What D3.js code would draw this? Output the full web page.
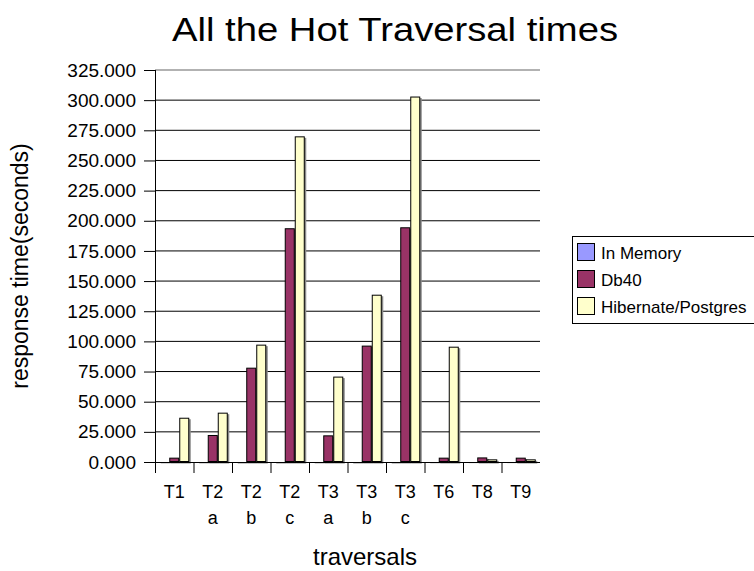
<!DOCTYPE html>
<html>
<head>
<meta charset="utf-8">
<title>All the Hot Traversal times</title>
<script src="https://d3js.org/d3.v7.min.js"></script>
<style>
  body { margin: 0; background: #fff; overflow: hidden; }
  svg { display: block; }
  svg text { font-family: "Liberation Sans", Arial, sans-serif; fill: #000; }
</style>
</head>
<body>
<div id="chart"></div>
<script>
// Data
const categories = ["T1", "T2a", "T2b", "T2c", "T3a", "T3b", "T3c", "T6", "T8", "T9"];
const categoryLabels = [["T1"], ["T2", "a"], ["T2", "b"], ["T2", "c"], ["T3", "a"], ["T3", "b"], ["T3", "c"], ["T6"], ["T8"], ["T9"]];
const seriesNames = ["In Memory", "Db40", "Hibernate/Postgres"];
const inMemory = [0.3, 0.3, 0.4, 0.5, 0.3, 0.4, 0.5, 0.2, 0.1, 0.1];
const db40 = [3.6, 22.4, 78.2, 193.8, 22.1, 96.5, 194.6, 3.6, 3.8, 3.6];
const hibernate = [36.7, 40.9, 97.3, 270.0, 70.8, 138.7, 303.0, 95.6, 2.2, 2.2];
const yTicks = [0, 25, 50, 75, 100, 125, 150, 175, 200, 225, 250, 275, 300, 325];

const colors = ["#9999ff", "#993366", "#ffffcc"];
const series = [inMemory, db40, hibernate];

// Dimensions
const width = 754, height = 571;
const margin = { top: 70, right: 214, bottom: 109, left: 155 };
const innerWidth = width - margin.left - margin.right;
const innerHeight = height - margin.top - margin.bottom;

const svg = d3.select("#chart").append("svg")
  .attr("width", width)
  .attr("height", height);

const g = svg.append("g")
  .attr("transform", `translate(${margin.left},${margin.top})`);

// Scales
const x = d3.scaleBand().domain(categories).range([0, innerWidth]).paddingInner(0).paddingOuter(0);
const xInner = d3.scaleBand().domain(d3.range(series.length))
  .range([x.bandwidth() * 0.11, x.bandwidth() * 0.89]);
const y = d3.scaleLinear().domain([0, 325]).range([innerHeight, 0]);

// Gridlines
g.selectAll(".grid").data(yTicks.filter(d => d > 0)).join("line")
  .attr("x1", 0).attr("x2", innerWidth)
  .attr("y1", d => y(d)).attr("y2", d => y(d))
  .attr("stroke", d => d === 325 ? "#999" : "#000")
  .attr("stroke-width", d => d === 325 ? 1.5 : 1);

// Bars (with Excel-like shadow)
const rows = [];
categories.forEach((c, i) => series.forEach((s, j) => rows.push({ c, j, v: s[i] })));

g.selectAll(".shadow").data(rows).join("rect")
  .attr("x", d => x(d.c) + xInner(d.j) + 1.5)
  .attr("y", d => y(d.v) + 1.5)
  .attr("width", xInner.bandwidth())
  .attr("height", d => innerHeight - y(d.v))
  .attr("fill", "#8a8a8a");

g.selectAll(".bar").data(rows).join("rect")
  .attr("x", d => x(d.c) + xInner(d.j) + 0.5)
  .attr("y", d => y(d.v) + 0.5)
  .attr("width", xInner.bandwidth() - 1)
  .attr("height", d => Math.max(0, innerHeight - y(d.v) - 1))
  .attr("fill", d => colors[d.j])
  .attr("stroke", "#000")
  .attr("stroke-width", 1);

// Y axis
const yAxis = g.append("g")
  .attr("font-size", 19)
  .attr("font-family", "Liberation Sans, Arial, sans-serif")
  .call(d3.axisLeft(y).tickValues(yTicks).tickFormat(d3.format(".3f")).tickSize(11).tickPadding(8));
yAxis.attr("font-size", 19).attr("font-family", "Liberation Sans, Arial, sans-serif");
yAxis.select(".domain").attr("d", `M0.5,0V${innerHeight}`).attr("stroke", "#000");

// X axis baseline and category separators
g.append("line")
  .attr("x1", 0).attr("x2", innerWidth)
  .attr("y1", innerHeight + 0.5).attr("y2", innerHeight + 0.5)
  .attr("stroke", "#000");

g.selectAll(".sep").data(categories).join("line")
  .attr("x1", d => x(d) + 0.5).attr("x2", d => x(d) + 0.5)
  .attr("y1", innerHeight).attr("y2", innerHeight + 11)
  .attr("stroke", "#000");

// Category labels (two lines where needed)
categoryLabels.forEach((lines, i) => {
  lines.forEach((t, k) => {
    g.append("text")
      .attr("x", x(categories[i]) + x.bandwidth() / 2)
      .attr("y", innerHeight + 36 + k * 26)
      .attr("text-anchor", "middle")
      .attr("font-size", 18)
      .text(t);
  });
});

// Titles
svg.append("text")
  .attr("x", 395).attr("y", 41)
  .attr("text-anchor", "middle")
  .attr("font-size", 34)
  .attr("textLength", 446)
  .attr("lengthAdjust", "spacingAndGlyphs")
  .text("All the Hot Traversal times");

svg.append("text")
  .attr("x", 365).attr("y", 565)
  .attr("text-anchor", "middle")
  .attr("font-size", 24)
  .text("traversals");

svg.append("text")
  .attr("transform", `translate(28,${margin.top + innerHeight / 2}) rotate(-90)`)
  .attr("text-anchor", "middle")
  .attr("font-size", 23)
  .text("response time(seconds)");

// Legend
const legend = svg.append("g").attr("transform", "translate(572,236)");
legend.append("rect")
  .attr("x", 0.5).attr("y", 0.5)
  .attr("width", 200).attr("height", 87)
  .attr("fill", "#fff").attr("stroke", "#000");

const item = legend.selectAll(".item").data(seriesNames).join("g")
  .attr("transform", (d, i) => `translate(5,${7 + i * 27})`);
item.append("rect")
  .attr("x", 0.5).attr("y", 0.5)
  .attr("width", 17).attr("height", 17)
  .attr("fill", (d, i) => colors[i])
  .attr("stroke", "#000");
item.append("text")
  .attr("x", 24).attr("y", 16)
  .attr("font-size", 17)
  .text(d => d);
</script>
</body>
</html>
